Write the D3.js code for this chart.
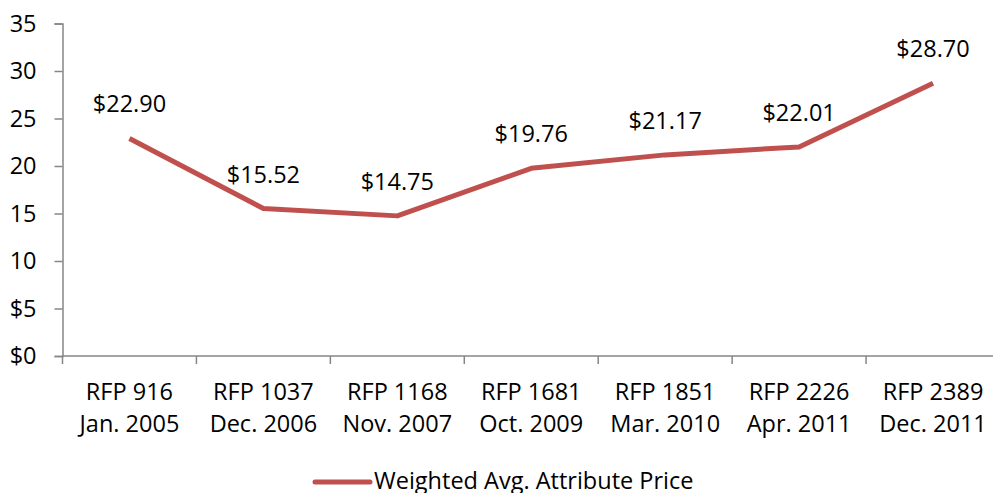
<!DOCTYPE html>
<html>
<head>
<meta charset="utf-8">
<script src="https://cdn.jsdelivr.net/npm/d3@7"></script>
<style>
  body { margin: 0; background: #fff; }
  svg text { font-family: "Open Sans", "Noto Sans", sans-serif; fill: #000; }
</style>
</head>
<body>
<div id="chart"></div>
<script>
// Data
const rfps = ["RFP 916", "RFP 1037", "RFP 1168", "RFP 1681", "RFP 1851", "RFP 2226", "RFP 2389"];
const dates = ["Jan. 2005", "Dec. 2006", "Nov. 2007", "Oct. 2009", "Mar. 2010", "Apr. 2011", "Dec. 2011"];
const prices = [22.90, 15.52, 14.75, 19.76, 21.17, 22.01, 28.70];
const yTicks = [0, 5, 10, 15, 20, 25, 30, 35];
const yTickLabels = ["$0", "$5", "10", "15", "20", "25", "30", "35"];
const seriesName = "Weighted Avg. Attribute Price";

const width = 993, height = 493;
const margin = { top: 23.5, right: -7, bottom: 137, left: 62.5 };
const innerW = width - margin.left - margin.right;
const innerH = height - margin.top - margin.bottom;
const lineColor = "#C0504D";
const axisColor = "#868686";
const fontSize = 23.5;

const svg = d3.select("#chart").append("svg")
    .attr("width", width)
    .attr("height", height);

const g = svg.append("g")
    .attr("transform", `translate(${margin.left},${margin.top})`);

const x = d3.scaleBand().domain(rfps).range([0, innerW]);
const y = d3.scaleLinear().domain([0, 35]).range([innerH, 0]);

// y axis
const yAxis = g.append("g")
    .call(d3.axisLeft(y).tickValues(yTicks).tickSize(8).tickPadding(18)
        .tickFormat((d, i) => yTickLabels[i]));
yAxis.select(".domain").attr("stroke", axisColor).attr("stroke-width", 1.5);
yAxis.selectAll(".tick line").attr("stroke", axisColor).attr("stroke-width", 1.5);
yAxis.selectAll("text").attr("font-size", fontSize).attr("fill", "#000")
    .attr("font-family", "'Open Sans', sans-serif");

// x axis: ticks at band boundaries
const xAxis = g.append("g").attr("transform", `translate(0,${innerH})`);
xAxis.append("line")
    .attr("x1", 0).attr("x2", innerW)
    .attr("stroke", axisColor).attr("stroke-width", 1.5);
xAxis.selectAll(".xtick")
    .data(rfps)
    .enter().append("line")
    .attr("x1", d => x(d)).attr("x2", d => x(d))
    .attr("y1", 0).attr("y2", 8)
    .attr("stroke", axisColor).attr("stroke-width", 1.5);

const xLabels = xAxis.selectAll(".xlabel")
    .data(rfps)
    .enter().append("text")
    .attr("text-anchor", "middle")
    .attr("font-size", fontSize)
    .attr("x", d => x(d) + x.bandwidth() / 2);
xLabels.append("tspan")
    .attr("x", d => x(d) + x.bandwidth() / 2)
    .attr("y", 44)
    .text(d => d);
xLabels.append("tspan")
    .attr("x", d => x(d) + x.bandwidth() / 2)
    .attr("y", 76)
    .text((d, i) => dates[i]);

// line
const line = d3.line()
    .x((d, i) => x(rfps[i]) + x.bandwidth() / 2)
    .y(d => y(d));

g.append("path")
    .datum(prices)
    .attr("fill", "none")
    .attr("stroke", lineColor)
    .attr("stroke-width", 5)
    .attr("stroke-linejoin", "round")
    .attr("d", line);

// data labels
g.selectAll(".dlabel")
    .data(prices)
    .enter().append("text")
    .attr("text-anchor", "middle")
    .attr("font-size", fontSize)
    .attr("x", (d, i) => x(rfps[i]) + x.bandwidth() / 2)
    .attr("y", d => y(d) - 26)
    .text(d => "$" + d.toFixed(2));

// legend
const legend = svg.append("g").attr("transform", "translate(315,482)");
legend.append("line")
    .attr("x1", 0).attr("x2", 55)
    .attr("stroke", lineColor)
    .attr("stroke-width", 5)
    .attr("stroke-linecap", "round");
legend.append("text")
    .attr("x", 59)
    .attr("y", 7)
    .attr("font-size", fontSize)
    .text(seriesName);
</script>
</body>
</html>
